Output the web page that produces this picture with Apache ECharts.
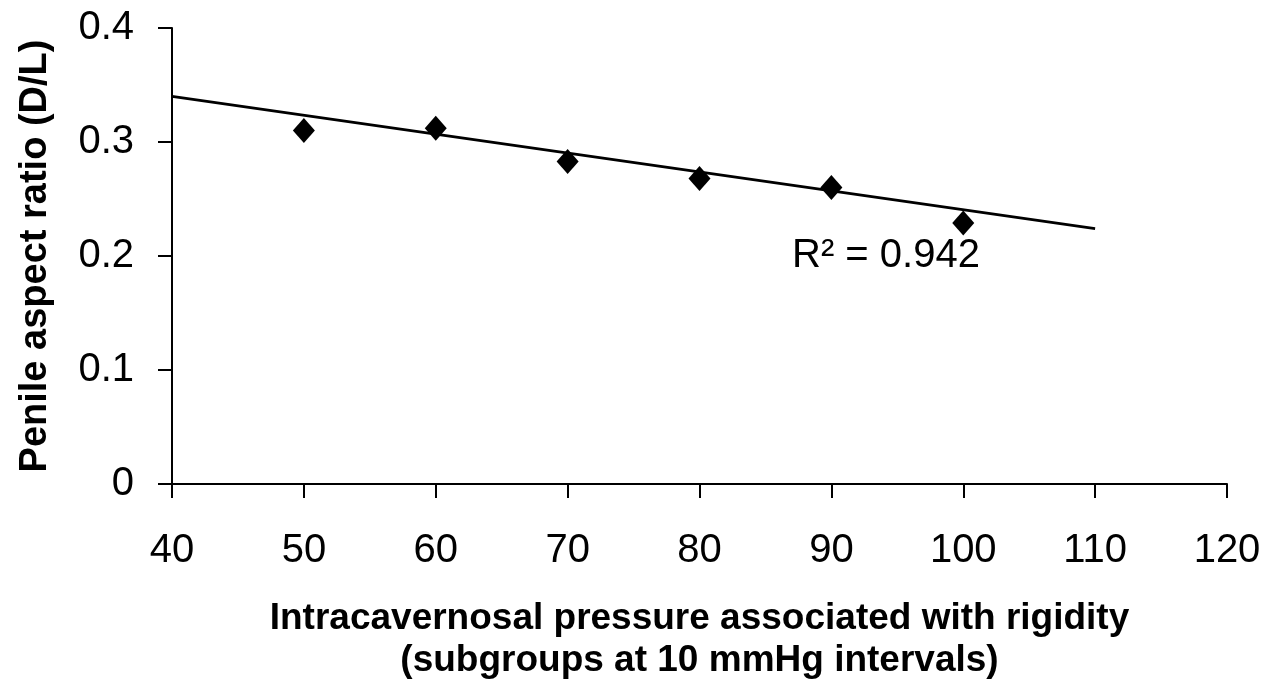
<!DOCTYPE html>
<html>
<head>
<meta charset="utf-8">
<script src="https://cdn.jsdelivr.net/npm/echarts@6/dist/echarts.min.js"></script>
<style>
  html, body { margin: 0; padding: 0; background: #fff; }
  #chart { width: 1266px; height: 689px; }
</style>
</head>
<body>
<div id="chart"></div>
<script>
// pressure subgroups (mmHg) and measured aspect ratio
const pressure = [50, 60, 70, 80, 90, 100];
const aspectRatio = [0.310, 0.312, 0.283, 0.268, 0.260, 0.229];

// fitted trend line, read at its two ends
const trendX = [40, 110];
const trendY = [0.340, 0.224];

const rSquared = '0.942';

const font = '"Liberation Sans", Arial, sans-serif';

var myChart = echarts.init(document.getElementById('chart'));

var option = {
    animation: false,
    backgroundColor: '#fff',
    grid: { left: 172, top: 28, right: 39, bottom: 205 },
    xAxis: {
        type: 'value',
        min: 40,
        max: 120,
        interval: 10,
        name: 'Intracavernosal pressure associated with rigidity\n(subgroups at 10 mmHg intervals)',
        nameLocation: 'middle',
        nameGap: 114,
        nameTextStyle: { fontFamily: font, fontWeight: 'bold', fontSize: 37, lineHeight: 42, color: '#000' },
        axisLine: { lineStyle: { color: '#000', width: 2 } },
        axisTick: { show: true, length: 14, lineStyle: { color: '#000', width: 2 } },
        axisLabel: { fontFamily: font, fontSize: 40, color: '#000', margin: 47 },
        splitLine: { show: false }
    },
    yAxis: {
        type: 'value',
        min: 0,
        max: 0.4,
        interval: 0.1,
        name: 'Penile aspect ratio (D/L)',
        nameLocation: 'middle',
        nameGap: 117,
        nameTextStyle: { fontFamily: font, fontWeight: 'bold', fontSize: 38, color: '#000' },
        axisLine: { show: true, lineStyle: { color: '#000', width: 2 } },
        axisTick: { show: true, length: 14, lineStyle: { color: '#000', width: 2 } },
        axisLabel: { fontFamily: font, fontSize: 40, color: '#000', margin: 38 },
        splitLine: { show: false }
    },
    series: [
        {
            type: 'line',
            data: trendX.map((x, i) => [x, trendY[i]]),
            symbol: 'none',
            lineStyle: { color: '#000', width: 2.8 },
            z: 2
        },
        {
            type: 'scatter',
            data: pressure.map((x, i) => [x, aspectRatio[i]]),
            symbol: 'diamond',
            symbolSize: [22, 25],
            itemStyle: { color: '#000', opacity: 1 },
            z: 3
        }
    ],
    graphic: [
        {
            type: 'text',
            left: 792,
            top: 236,
            style: {
                text: 'R\u00b2 = ' + rSquared,
                font: '40px ' + font,
                fill: '#000'
            }
        }
    ]
};
myChart.setOption(option);
</script>
</body>
</html>
